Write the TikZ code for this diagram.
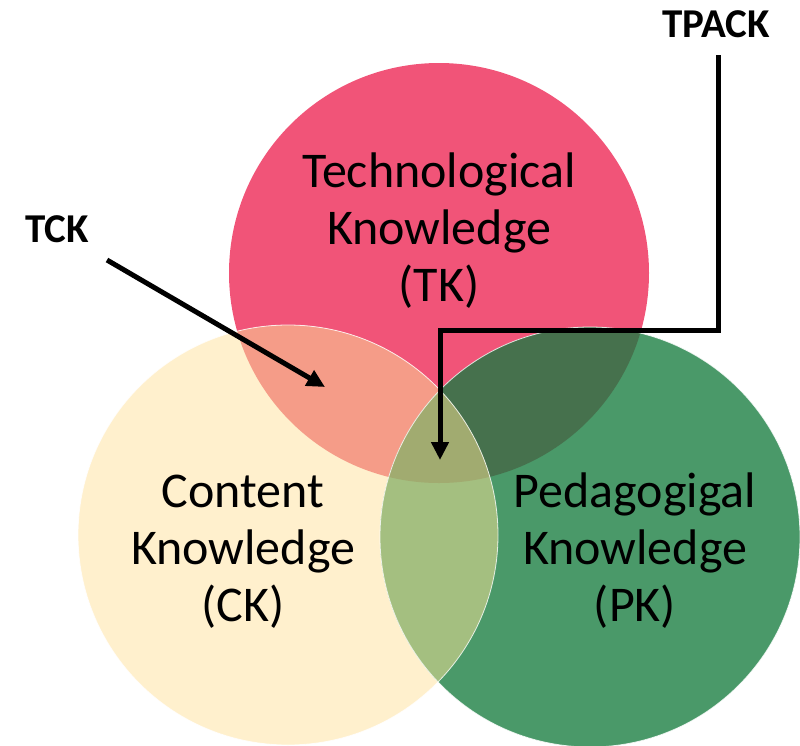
\documentclass[tikz,border=0pt]{standalone}
\usepackage{fontspec}
\setmainfont{Carlito}
\usetikzlibrary{arrows.meta}
\definecolor{tkc}{RGB}{241,84,120}
\definecolor{ckc}{RGB}{255,240,205}
\definecolor{pkc}{RGB}{74,153,105}
\definecolor{tkckc}{RGB}{245,156,136}
\definecolor{tkpkc}{RGB}{70,113,77}
\definecolor{ckpkc}{RGB}{164,191,128}
\definecolor{allc}{RGB}{161,171,112}
\tikzset{
  circtext/.style={align=center, inner sep=0pt, font=\fontsize{50}{57}\selectfont},
  tag/.style={inner sep=0pt, anchor=base, font=\fontsize{41}{48}\selectfont\bfseries},
  pointer/.style={line width=5pt, -{Triangle[length=18pt,width=17pt]}, miter limit=10},
  rim/.style={white, line width=0.8pt, opacity=0.8}
}
\begin{document}
\begin{tikzpicture}[x=1pt,y=-1pt]
\useasboundingbox (0,0) rectangle (800,745);
\coordinate (TK) at (439,273);
\coordinate (CK) at (288,535);
\coordinate (PK) at (590,537);
\def\R{210pt}
% circles
\fill[tkc] (TK) circle[radius=\R];
\fill[ckc] (CK) circle[radius=\R];
\fill[pkc] (PK) circle[radius=\R];
\begin{scope}
  \clip (TK) circle[radius=\R];
  \fill[tkckc] (CK) circle[radius=\R];
  \fill[tkpkc] (PK) circle[radius=\R];
\end{scope}
\begin{scope}
  \clip (CK) circle[radius=\R];
  \fill[ckpkc] (PK) circle[radius=\R];
\end{scope}
\begin{scope}
  \clip (TK) circle[radius=\R];
  \clip (CK) circle[radius=\R];
  \fill[allc] (PK) circle[radius=\R];
\end{scope}
\draw[rim] (CK) circle[radius=\R];
\draw[rim] (PK) circle[radius=\R];
% circle texts
\node[circtext] (tktext) at (439,231) {Technological\\Knowledge\\(TK)};
\node[circtext] (cktext) at (243,552) {Content\\Knowledge\\(CK)};
\node[circtext] (pktext) at (635,551) {Pedagogigal\\Knowledge\\(PK)};
% labels
\node[tag] (tck) at (57,242) {TCK};
\node[tag] (tpack) at (716,37) {TPACK};
% connectors
\coordinate (tckfrom) at (107,260);
\coordinate (tckto) at (325,387);
\coordinate (tpfrom) at (718,55);
\coordinate (tpbend1) at (718,330);
\coordinate (tpbend2) at (440,330);
\coordinate (tpto) at (440,460);
\draw[pointer] (tckfrom) -- (tckto);
\draw[pointer] (tpfrom) -- (tpbend1) -- (tpbend2) -- (tpto);
\end{tikzpicture}
\end{document}
